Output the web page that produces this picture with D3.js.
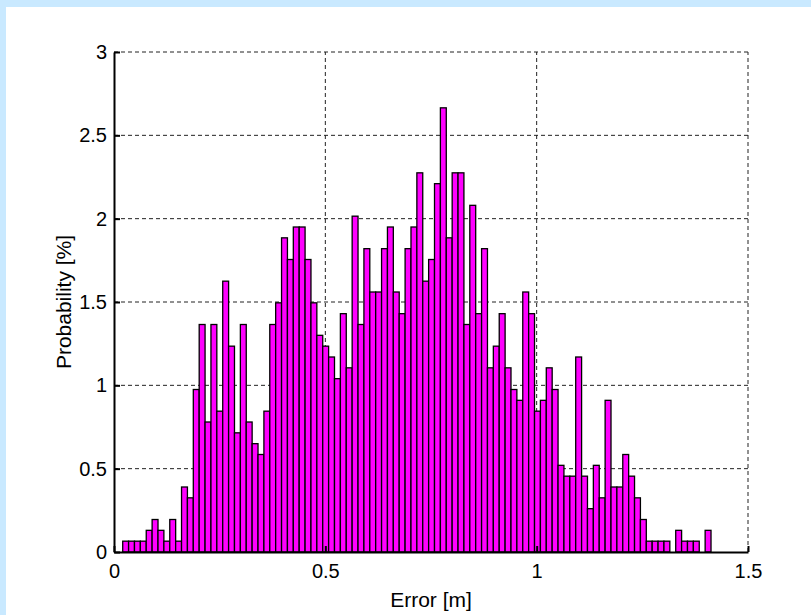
<!DOCTYPE html>
<html>
<head>
<meta charset="utf-8">
<script src="https://cdn.jsdelivr.net/npm/d3@7"></script>
<style>
  html, body { margin: 0; padding: 0; background: #ffffff; }
  svg { display: block; }
  text { font-family: "Liberation Sans", Arial, sans-serif; fill: #000; }
</style>
</head>
<body>
<div id="chart"></div>
<script>
// histogram of the error, 100 bins, values in percent
const binStart = 0.0206;
const binWidth = 0.013919;
const probability = [
  0.065, 0.065, 0.065, 0.065, 0.13, 0.195, 0.13, 0.065, 0.195, 0.065,
  0.39, 0.325, 0.975, 1.365, 0.78, 1.365, 0.845, 1.625, 1.235, 0.715,
  1.365, 0.78, 0.65, 0.585, 0.845, 1.365, 1.495, 1.885, 1.755, 1.95,
  1.95, 1.755, 1.495, 1.30, 1.235, 1.17, 1.04, 1.43, 1.105, 2.015,
  1.365, 1.82, 1.56, 1.56, 1.82, 1.95, 1.56, 1.43, 1.82, 1.95,
  2.275, 1.625, 1.755, 2.21, 2.665, 1.885, 2.275, 2.275, 1.365, 2.08,
  1.43, 1.82, 1.105, 1.235, 1.43, 1.105, 0.975, 0.91, 1.56, 1.43,
  0.845, 0.91, 1.105, 0.975, 0.52, 0.455, 0.455, 1.17, 0.455, 0.26,
  0.52, 0.325, 0.91, 0.39, 0.39, 0.585, 0.455, 0.325, 0.195, 0.065,
  0.065, 0.065, 0.065, 0, 0.13, 0.065, 0.065, 0.065, 0, 0.13
];
const xTicks = [0, 0.5, 1, 1.5];
const yTicks = [0, 0.5, 1, 1.5, 2, 2.5, 3];

const width = 811, height = 615;
const margin = {top: 52, right: 63, bottom: 63, left: 114};

const svg = d3.select("#chart").append("svg")
  .attr("width", width)
  .attr("height", height);

// light blue frame on top and left
svg.append("rect").attr("x", 0).attr("y", 0).attr("width", width).attr("height", height).attr("fill", "#c9e9ff");
svg.append("rect").attr("x", 6).attr("y", 7).attr("width", width - 6).attr("height", height - 7).attr("fill", "#ffffff");

const x = d3.scaleLinear().domain([0, 1.5]).range([margin.left, width - margin.right]);
const y = d3.scaleLinear().domain([0, 3]).range([height - margin.bottom, margin.top]);

// grid (dashed, behind the bars)
const grid = svg.append("g");
grid.selectAll("line.h")
  .data(yTicks.filter(d => d > 0))
  .join("line")
  .attr("x1", x(0)).attr("x2", x(1.5))
  .attr("y1", d => y(d)).attr("y2", d => y(d))
  .attr("stroke", "#222").attr("stroke-width", 1).attr("stroke-dasharray", "4,3");
grid.selectAll("line.v")
  .data(xTicks.filter(d => d > 0))
  .join("line")
  .attr("y1", y(0)).attr("y2", y(3))
  .attr("x1", d => x(d)).attr("x2", d => x(d))
  .attr("stroke", "#222").attr("stroke-width", 1).attr("stroke-dasharray", "4,3");

// bars
svg.append("g")
  .selectAll("rect")
  .data(probability)
  .join("rect")
  .attr("x", (d, i) => x(binStart + i * binWidth))
  .attr("width", (d, i) => x(binStart + (i + 1) * binWidth) - x(binStart + i * binWidth))
  .attr("y", d => y(d))
  .attr("height", d => y(0) - y(d))
  .attr("fill", "#ff00ff")
  .attr("stroke", d => d > 0 ? "#000" : "none")
  .attr("stroke-width", 1.3);

// axes, ticks pointing inward
const xAxis = svg.append("g")
  .attr("transform", `translate(0,${y(0)})`)
  .call(d3.axisBottom(x).tickValues(xTicks).tickFormat(d3.format("")).tickSizeInner(-6).tickSizeOuter(0).tickPadding(12));
const yAxis = svg.append("g")
  .attr("transform", `translate(${x(0)},0)`)
  .call(d3.axisLeft(y).tickValues(yTicks).tickFormat(d3.format("")).tickSizeInner(-6).tickSizeOuter(0).tickPadding(7));

[xAxis, yAxis].forEach(a => {
  a.select(".domain").attr("stroke", "#000").attr("stroke-width", 2);
  a.selectAll(".tick line").attr("stroke", "#000").attr("stroke-width", 2);
  a.selectAll(".tick text")
    .style("font-family", "'Liberation Sans', Arial, sans-serif")
    .style("font-size", "20px")
    .attr("fill", "#000");
});

// axis labels
svg.append("text")
  .attr("x", x(0.75))
  .attr("y", 607)
  .attr("text-anchor", "middle")
  .style("font-size", "21px")
  .text("Error [m]");

svg.append("text")
  .attr("transform", `translate(71,${y(1.5)}) rotate(-90)`)
  .attr("text-anchor", "middle")
  .style("font-size", "21px")
  .text("Probability [%]");
</script>
</body>
</html>
